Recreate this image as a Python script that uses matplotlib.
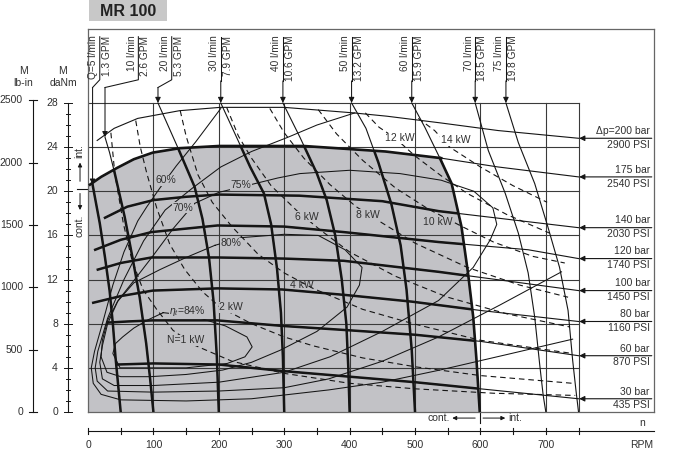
import matplotlib.pyplot as plt
from matplotlib.patches import Polygon, Rectangle

plt.rcParams['font.family'] = ['Liberation Sans', 'DejaVu Sans']
plt.rcParams['mathtext.fontset'] = 'custom'
plt.rcParams['mathtext.rm'] = 'Liberation Sans'
plt.rcParams['mathtext.it'] = 'Liberation Sans:italic'

ink = '#151515'
txt = '#303030'
shade = '#c2c2c6'
gridc = '#3a3a3a'

# constant pressure lines, speed (rpm) / torque (daNm)
bar200_n = [14, 40, 76, 140, 202, 300, 406, 457, 538, 627, 750]
bar200_m = [24.6, 25.7, 26.6, 27.3, 27.6, 27.6, 27.1, 26.8, 26.2, 25.5, 24.8]
bar175_n = [3, 20, 44, 70, 99, 140, 200, 330, 455, 540, 627, 750]
bar175_m = [20.6, 21.3, 22.1, 22.9, 23.5, 23.9, 24.1, 24.1, 23.6, 23.0, 22.2, 21.3]
bar140_n = [26, 60, 100, 150, 200, 323, 450, 536, 650, 750]
bar140_m = [17.6, 18.6, 19.2, 19.5, 19.7, 19.6, 19.1, 18.2, 17.4, 16.7]
bar120_n = [11, 50, 97, 198, 300, 391, 536, 673, 750]
bar120_m = [14.7, 15.6, 16.3, 16.9, 16.8, 16.3, 15.4, 14.7, 13.9]
bar100_n = [15, 50, 97, 198, 300, 391, 536, 650, 750]
bar100_m = [12.9, 13.5, 14.0, 14.0, 13.9, 13.7, 12.7, 11.8, 11.0]
bar80_n = [8, 50, 99, 198, 297, 394, 495, 600, 750]
bar80_m = [9.9, 10.5, 11.0, 11.2, 11.1, 10.6, 10.0, 9.2, 8.2]
bar60_n = [30, 60, 99, 198, 297, 400, 500, 600, 750]
bar60_m = [8.1, 8.2, 8.3, 8.3, 7.8, 7.4, 7.0, 6.4, 5.1]
bar30_n = [44, 100, 200, 300, 400, 500, 600, 700, 750]
bar30_m = [4.3, 4.4, 4.3, 3.7, 3.2, 2.7, 2.1, 1.5, 1.2]

pressure_bar = [200, 175, 140, 120, 100, 80, 60, 30]
pressure_psi = [2900, 2540, 2030, 1740, 1450, 1160, 870, 435]
pressure_n = [bar200_n, bar175_n, bar140_n, bar120_n, bar100_n, bar80_n, bar60_n, bar30_n]
pressure_m = [bar200_m, bar175_m, bar140_m, bar120_m, bar100_m, bar80_m, bar60_m, bar30_m]

# constant flow lines
q5_n = [7, 12, 18, 26, 33, 38, 42, 46, 50]
q5_m = [20.6, 19, 17.1, 14, 11, 8, 5, 2.5, 0]
q10_n = [26, 33, 41, 56, 68, 79, 89, 95, 100]
q10_m = [24.9, 23.5, 21.6, 17.7, 14, 10.4, 6.2, 3, 0]
q20_n = [107, 122, 137, 150, 163, 175, 185, 192, 197, 200]
q20_m = [28, 26, 24, 22.2, 20.4, 17.5, 14, 10, 5, 0]
q30_n = [203, 224, 248, 269, 280, 289, 295, 298, 300]
q30_m = [28, 25.3, 22.2, 19.8, 17, 13, 9, 5, 0]
q40_n = [298, 324, 350, 365, 378, 388, 395, 398, 400]
q40_m = [28, 24.9, 21.6, 19.2, 16, 12, 8, 4, 0]
q50_n = [403, 425, 444, 464, 478, 487, 495, 500]
q50_m = [28, 25.7, 22.6, 18.8, 15.1, 11.1, 5.6, 0]
q60_n = [495, 515, 538, 556, 571, 581, 589, 594, 599]
q60_m = [28, 25.8, 23.0, 20.7, 16.8, 12.6, 8.6, 4.7, 0]
q70_n = [592, 612, 638, 658, 673, 683, 691, 696, 700]
q70_m = [28, 23.7, 19.8, 16.2, 12.6, 8.6, 4.1, 1.5, 0]
q75_n = [639, 658, 683, 703, 721, 734, 741, 746, 750]
q75_m = [28, 24.4, 20.7, 16.8, 13.1, 9.2, 4.7, 2, 0]

q_lmin = [5, 10, 20, 30, 40, 50, 60, 70, 75]
q_gpm = ['1.3', '2.6', '5.3', '7.9', '10.6', '13.2', '15.9', '18.5', '19.8']
q_label_n = [18, 77, 128, 203, 298, 403, 495, 592, 639]
q_n = [q5_n, q10_n, q20_n, q30_n, q40_n, q50_n, q60_n, q70_n, q75_n]
q_m = [q5_m, q10_m, q20_m, q30_m, q40_m, q50_m, q60_m, q70_m, q75_m]

# output power lines (dashed)
kw1_n = [35, 41, 54, 67, 84, 105, 130, 161, 220, 300, 400, 500, 620, 745]
kw1_m = [25.3, 21.6, 17.1, 13.8, 11.1, 9.3, 7.4, 6.1, 4.6, 3.5, 2.6, 2.1, 1.7, 1.5]
kw2_n = [73, 80, 90, 105, 125, 148, 175, 202, 250, 300, 344, 420, 500, 600, 741]
kw2_m = [26.4, 24, 21.6, 18.5, 15.2, 12.9, 10.9, 9.5, 8.0, 6.8, 6.0, 4.9, 4.1, 3.3, 2.6]
kw4_n = [141, 150, 168, 190, 220, 260, 300, 344, 420, 497, 600, 741]
kw4_m = [27.3, 25, 21.5, 19, 16.8, 14.3, 12.6, 11.2, 9.3, 8.0, 6.5, 5.3]
kw6_n = [212, 230, 250, 280, 320, 355, 400, 470, 550, 640, 737]
kw6_m = [27.6, 25, 23, 20.5, 18.2, 16.5, 14.5, 12.3, 10.4, 8.9, 7.7]
kw8_n = [278, 300, 330, 370, 410, 445, 500, 580, 660, 734]
kw8_m = [27.5, 25.3, 23, 20.6, 18.6, 17.3, 15.3, 13.1, 11.5, 10.4]
kw10_n = [352, 380, 420, 470, 520, 572, 620, 680, 729]
kw10_m = [27.4, 25.2, 22.8, 20.3, 18.4, 16.8, 15.4, 14.1, 13.5]
kw12_n = [424, 445, 470, 500, 540, 580, 640, 706]
kw12_m = [27.1, 25.8, 24.8, 23.2, 21.4, 19.8, 17.9, 16.2]
kw14_n = [505, 530, 553, 600, 650, 702]
kw14_m = [26.6, 25.5, 24.0, 22.2, 20.5, 19.0]
kw_n = [kw1_n, kw2_n, kw4_n, kw6_n, kw8_n, kw10_n, kw12_n, kw14_n]
kw_m = [kw1_m, kw2_m, kw4_m, kw6_m, kw8_m, kw10_m, kw12_m, kw14_m]

# total efficiency contours
eff84_n = [115, 145, 171, 210, 243, 251, 240, 213, 150, 90, 49, 38, 42, 53, 70, 90, 115]
eff84_m = [9.0, 8.8, 8.5, 7.8, 6.8, 5.9, 5.0, 4.4, 4.0, 4.0, 4.0, 5.3, 6.2, 6.8, 7.6, 8.3, 9.0]
eff80_n = [194, 235, 300, 352, 393, 419, 415, 396, 350, 294, 250, 206, 150, 95, 50, 29,
           20, 22, 30, 45, 70, 110, 150, 194]
eff80_m = [15.1, 15.8, 16.1, 16.0, 14.7, 13.1, 11.5, 9.5, 7.3, 5.6, 4.5, 3.8, 3.4, 3.2, 3.2, 3.6,
           5, 6.5, 8.3, 10, 11.7, 12.9, 14.0, 15.1]
eff75_n = [249, 290, 324, 400, 477, 540, 590, 619, 625, 615, 589, 536, 450, 370, 300, 200, 100,
           40, 22, 18, 22, 30, 46, 70, 100, 130, 163, 200, 249]
eff75_m = [20.6, 21.2, 21.6, 21.9, 21.6, 21.0, 20.0, 18.5, 17.0, 15.6, 13.1, 10.1, 7.3, 5.0, 3.6,
           2.7, 2.4, 2.4, 3.0, 4.5, 6, 8, 10.1, 11.9, 14.2, 16.6, 18.9, 19.9, 20.6]
eff70_n = [408, 350, 306, 250, 203, 160, 118, 85, 55, 30, 15, 11, 14, 30, 100, 200, 300, 368,
           450, 536, 630, 724]
eff70_m = [27.1, 26.0, 24.9, 23.6, 22.2, 20.3, 18.3, 15.5, 12, 8.5, 5.5, 4, 2.8, 1.9, 1.8, 1.9,
           2.2, 3.0, 4.6, 6.8, 9.7, 12.7]
eff60_n = [203, 165, 135, 110, 90, 76, 55, 38, 22, 10, 5, 8, 20, 50, 150, 250, 368, 450, 538,
           640, 741]
eff60_m = [27.5, 24.5, 22.3, 20.3, 18.6, 17.3, 14.5, 11.5, 8, 5.5, 4, 2.6, 1.6, 1.1, 1.0, 1.2,
           2.0, 2.7, 3.8, 5.2, 6.6]
eff_n = [eff84_n, eff80_n, eff75_n, eff70_n, eff60_n]
eff_m = [eff84_m, eff80_m, eff75_m, eff70_m, eff60_m]

rpm_ticks = [0, 100, 200, 300, 400, 500, 600, 700]
rpm_grid = [100, 200, 300, 400, 500, 600, 700, 750]
torque_grid = [4, 8, 12, 16, 20, 24, 28]
lbin_ticks = [0, 500, 1000, 1500, 2000, 2500]
danm_ticks = [0, 4, 8, 12, 16, 20, 24, 28]

fig = plt.figure(figsize=(6.74, 4.66), dpi=100)
ax = fig.add_axes([88 / 674, 54 / 466, 566 / 674, 383 / 466])
ax.set_xlim(0, 865.4)
ax.set_ylim(0, 34.7)
ax.set_xticks([])
ax.set_yticks([])
for s in ax.spines.values():
    s.set_color('#666666')
    s.set_linewidth(0.9)

# shaded operating area: 175 bar line on top, 60 l/min line on the right
edge = [(0, 0), (0, 20.4)]
edge += [(n, m) for n, m in zip(bar175_n, bar175_m) if n <= 540]
edge += [(n, m) for n, m in zip(q60_n, q60_m) if m < 23.0]
area = Polygon(edge, closed=True, fc=shade, ec='none', zorder=0)
ax.add_patch(area)

for x in rpm_grid:
    ax.plot([x, x], [0, 28], color=gridc, lw=0.8, zorder=1)
for y in torque_grid:
    ax.plot([0, 750], [y, y], color=gridc, lw=0.8, zorder=1)


def weighted(n, m):
    ax.plot(n, m, color=ink, lw=0.8, zorder=3)
    ln, = ax.plot(n, m, color=ink, lw=1.8, zorder=4)
    ln.set_clip_path(area)


# efficiency contours and power lines
for n, m in zip(eff_n, eff_m):
    ax.plot(n, m, color=ink, lw=0.75, zorder=3)
for n, m in zip(kw_n, kw_m):
    ax.plot(n, m, color=ink, lw=0.8, ls=(0, (5, 3.5)), zorder=3)

# pressure lines
for i in range(len(pressure_bar)):
    n, m = pressure_n[i], pressure_m[i]
    if pressure_bar[i] == 200:
        ax.plot(n, m, color=ink, lw=0.8, zorder=3)
    elif pressure_bar[i] == 175:
        ax.plot(n, m, color=ink, lw=0.8, zorder=3)
        top = [(a, b) for a, b in zip(n, m) if a <= 540]
        ax.plot([p[0] for p in top], [p[1] for p in top], color=ink, lw=1.9, zorder=4)
    else:
        weighted(n, m)
    ax.annotate('', xy=(751, m[-1]), xytext=(862, m[-1]),
                arrowprops=dict(arrowstyle='-|>', color=ink, lw=0.8, mutation_scale=8,
                                shrinkA=0, shrinkB=0), annotation_clip=False, zorder=5)
    top_label = ('\u0394p=%d bar' if pressure_bar[i] == 200 else '%d bar') % pressure_bar[i]
    ax.text(859, m[-1] + 0.2, top_label, ha='right', va='bottom', fontsize=7.5, color=txt)
    ax.text(859, m[-1] - 0.15, '%d PSI' % pressure_psi[i], ha='right', va='top',
            fontsize=7.5, color=txt)

# flow lines with their labels
for i in range(len(q_lmin)):
    n, m = q_n[i], q_m[i]
    if q_lmin[i] <= 50:
        weighted(n, m)
    elif q_lmin[i] == 60:
        ax.plot(n, m, color=ink, lw=0.8, zorder=3)
        low = [(a, b) for a, b in zip(n, m) if b <= 23.1]
        ax.plot([p[0] for p in low], [p[1] for p in low], color=ink, lw=1.9, zorder=4)
    else:
        ax.plot(n, m, color=ink, lw=0.8, zorder=3)
    sep = q_label_n[i]
    if sep != n[0]:
        ax.plot([sep, sep, n[0]], [34.0, 30.1, 29.4], color=ink, lw=0.75, zorder=3)
        start = 29.4
    else:
        ax.plot([sep, sep], [34.0, 30.0], color=ink, lw=0.75, zorder=3)
        start = 30.0
    ax.annotate('', xy=(n[0], m[0]), xytext=(n[0], start),
                arrowprops=dict(arrowstyle='-|>', color=ink, lw=0.75, mutation_scale=8,
                                shrinkA=0, shrinkB=0), zorder=5)
    left = ('Q=%d l/min' if q_lmin[i] == 5 else '%d l/min') % q_lmin[i]
    ax.text(sep - 2.5, 34.1, left, rotation=90, ha='right', va='top', fontsize=7.3, color=txt)
    ax.text(sep + 3.0, 34.1, q_gpm[i] + ' GPM', rotation=90, ha='left', va='top',
            fontsize=7.3, color=txt)

# labels inside the field
cut_gray = dict(boxstyle='square,pad=0.05', fc=shade, ec='none')
cut_white = dict(boxstyle='square,pad=0.05', fc='white', ec='none')
inner = [('60%', 119, 21.0, cut_gray), ('70%', 145, 18.5, cut_gray), ('75%', 234, 20.6, cut_gray),
         ('80%', 219, 15.3, cut_gray), (r'$\eta_t$=84%', 152, 9.15, cut_gray),
         ('N=1 kW', 150, 6.5, cut_gray), ('2 kW', 219, 9.5, cut_gray), ('4 kW', 327, 11.5, None),
         ('6 kW', 334, 17.7, cut_gray), ('8 kW', 428, 17.85, cut_gray),
         ('10 kW', 535, 17.2, cut_gray), ('12 kW', 476, 24.8, cut_white),
         ('14 kW', 562, 24.6, cut_white)]
for s, x, y, box in inner:
    ax.text(x, y, s, ha='center', va='center', fontsize=7.5, color=txt, bbox=box, zorder=6)

# speed axis below the chart
ax.plot([0, 865.4], [-1.72, -1.72], color=ink, lw=0.8, clip_on=False)
for x in range(0, 751, 50):
    ax.plot([x, x], [-1.45, -1.99], color=ink, lw=0.8, clip_on=False)
for x in rpm_ticks:
    ax.text(x, -3.0, str(x), ha='center', va='center', fontsize=7.5, color=txt, clip_on=False)
ax.text(865, -3.0, 'RPM', ha='right', va='center', fontsize=7.5, color=txt)
ax.text(847, -1.0, 'n', ha='center', va='center', fontsize=7.5, color=txt)
ax.plot([600, 600], [0, -1.0], color=ink, lw=0.8, clip_on=False)
ax.annotate('', xy=(557, -0.55), xytext=(592, -0.55), annotation_clip=False,
            arrowprops=dict(arrowstyle='-|>', color=ink, lw=0.7, mutation_scale=6, shrinkA=0, shrinkB=0))
ax.annotate('', xy=(638, -0.55), xytext=(604, -0.55), annotation_clip=False,
            arrowprops=dict(arrowstyle='-|>', color=ink, lw=0.7, mutation_scale=6, shrinkA=0, shrinkB=0))
ax.text(553, -0.55, 'cont.', ha='right', va='center', fontsize=7.5, color=txt)
ax.text(642, -0.55, 'int.', ha='left', va='center', fontsize=7.5, color=txt)

# torque axes on the left
ax.plot([-84.1, -84.1], [0, 2500 / 88.5], color=ink, lw=0.8, clip_on=False)
for v in lbin_ticks:
    y = v / 88.5
    ax.plot([-90, -78], [y, y], color=ink, lw=0.8, clip_on=False)
    ax.text(-99.4, y, str(v), ha='right', va='center', fontsize=7.5, color=txt, clip_on=False)
ax.plot([-30.6, -30.6], [0, 28], color=ink, lw=0.8, clip_on=False)
for v in range(0, 29):
    half = 5.5 if v in danm_ticks else 3.5
    ax.plot([-30.6 - half, -30.6 + half], [v, v], color=ink, lw=0.7, clip_on=False)
for v in danm_ticks:
    ax.text(-45.9, v, str(v), ha='right', va='center', fontsize=7.5, color=txt, clip_on=False)
ax.text(-98, 30.9, 'M', ha='center', va='center', fontsize=7.5, color=txt, clip_on=False)
ax.text(-99, 29.85, 'lb-in', ha='center', va='center', fontsize=7.5, color=txt, clip_on=False)
ax.text(-39, 30.9, 'M', ha='center', va='center', fontsize=7.5, color=txt, clip_on=False)
ax.text(-38, 29.85, 'daNm', ha='center', va='center', fontsize=7.5, color=txt, clip_on=False)

# continuous / intermittent marker on the torque side
ax.plot([-17, 0], [20.2, 20.2], color=ink, lw=0.8, clip_on=False)
ax.annotate('', xy=(-12.2, 22.6), xytext=(-12.2, 20.9), annotation_clip=False,
            arrowprops=dict(arrowstyle='-|>', color=ink, lw=0.7, mutation_scale=6, shrinkA=0, shrinkB=0))
ax.annotate('', xy=(-12.2, 18.3), xytext=(-12.2, 19.8), annotation_clip=False,
            arrowprops=dict(arrowstyle='-|>', color=ink, lw=0.7, mutation_scale=6, shrinkA=0, shrinkB=0))
ax.text(-13, 23.6, 'int.', rotation=90, ha='center', va='center', fontsize=7.5, color=txt,
        clip_on=False)
ax.text(-13, 16.9, 'cont.', rotation=90, ha='center', va='center', fontsize=7.5, color=txt,
        clip_on=False)

# title tab
fig.patches.append(Rectangle((89 / 674, 445 / 466), 78 / 674, 21 / 466, transform=fig.transFigure,
                             fc='#c8c8c8', ec='none'))
fig.text(128 / 674, 455 / 466, 'MR 100', ha='center', va='center', fontsize=11.5,
         fontweight='bold', color='#222222')

fig.savefig('out.png', dpi=100)
